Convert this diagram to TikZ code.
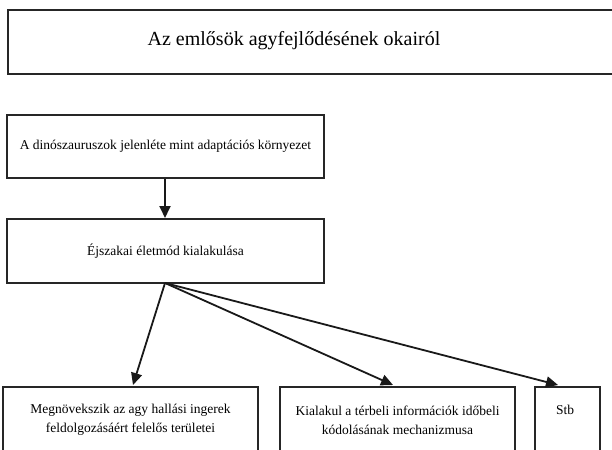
\documentclass[tikz,border=0pt]{standalone}
\usepackage{fontspec}
\setmainfont{Liberation Serif}
\usetikzlibrary{arrows.meta}
\begin{document}
\begin{tikzpicture}[x=1pt,y=-1pt,
  box/.style={draw=black!85,line width=2pt,rectangle,inner sep=0pt},
  txt/.style={font=\fontsize{13.5}{19}\selectfont,align=center,inner sep=0pt},
  arr/.style={line width=1.8pt,draw=black!90,-{Triangle[length=12pt,width=11pt]}}]
\useasboundingbox (0,0) rectangle (612,449);
\clip (0,0) rectangle (612,449);
% title
\node[box,minimum width=620pt,minimum height=64pt,anchor=north west] (title) at (7,9) {};
\node[txt,font=\fontsize{20}{22}\selectfont] (titletext) at (294,41) {Az emlősök agyfejlődésének okairól};
% box 1
\node[box,txt,minimum width=317pt,minimum height=63pt] (b1) at (165.5,146.5) {A dinószauruszok jelenléte mint adaptációs környezet};
% box 2
\node[box,txt,minimum width=317pt,minimum height=64pt] (b2) at (165.5,251) {Éjszakai életmód kialakulása};
% bottom boxes
\node[box,txt,minimum width=255pt,minimum height=66pt] (b3) at (130.5,420) {Megnövekszik az agy hallási ingerek\\feldolgozásáért felelős területei};
\node[box,txt,minimum width=235pt,minimum height=66pt] (b4) at (397.5,420) {Kialakul a térbeli információk időbeli\\kódolásának mechanizmusa};
\node[box,minimum width=65pt,minimum height=66pt] (b5) at (567.5,420) {};
\node[txt] (stbtext) at (565,410) {Stb};
% arrows
\coordinate (o) at (165,283);
\draw[arr] (b1.south -| o) -- (b2.north -| o);
\coordinate (t3) at (133,385);
\coordinate (t4) at (393,385);
\coordinate (t5) at (558,385);
\draw[arr] (o) -- (t3);
\draw[arr] (o) -- (t4);
\draw[arr] (o) -- (t5);
\end{tikzpicture}
\end{document}
